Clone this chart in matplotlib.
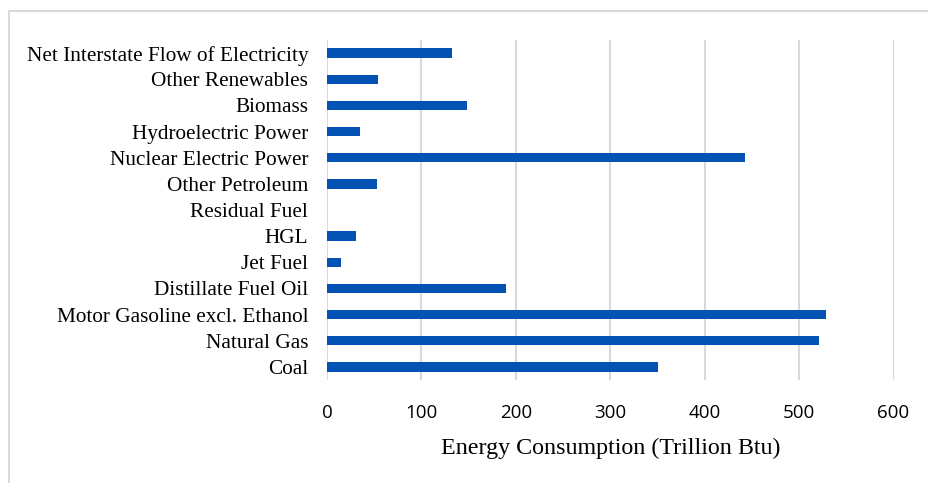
import matplotlib.pyplot as plt
from matplotlib.patches import Rectangle

categories = ['Coal', 'Natural Gas', 'Motor Gasoline excl. Ethanol',
              'Distillate Fuel Oil', 'Jet Fuel', 'HGL', 'Residual Fuel',
              'Other Petroleum', 'Nuclear Electric Power', 'Hydroelectric Power',
              'Biomass', 'Other Renewables', 'Net Interstate Flow of Electricity']
values = [350.3, 520.6, 528.8, 189.8, 14.8, 30.4, 0.2,
          52.6, 443.0, 34.9, 148.5, 54.3, 132.6]
xticks = [0, 100, 200, 300, 400, 500, 600]

fig = plt.figure(figsize=(9.29, 4.83), dpi=100)
ax = fig.add_axes([0.352, 0.2133, 0.6098, 0.7039])

# outer chart border (top and left visible)
fig.patches.append(Rectangle((9 / 929, -0.05), 1.0, 1 - 11 / 483 + 0.05,
                             transform=fig.transFigure, fill=False,
                             edgecolor='#d9d9d9', linewidth=1.5))

ax.barh(range(len(categories)), values, height=0.36, color='#0552b5', zorder=3)
ax.set_xlim(0, 600)
ax.set_ylim(-0.5, len(categories) - 0.5)
ax.set_xticks(xticks)
ax.set_xticklabels([str(t) for t in xticks], family='Open Sans', fontsize=13.5)
ax.set_yticks(range(len(categories)))
ax.set_yticklabels(categories, family='Liberation Serif', fontsize=15.3)
ax.tick_params(axis='x', length=0, pad=17)
ax.tick_params(axis='y', length=0, pad=13.5)
ax.grid(axis='x', color='#d9d9d9', linewidth=1.5, zorder=0)
for s in ax.spines.values():
    s.set_visible(False)
ax.set_xlabel('Energy Consumption (Trillion Btu)', family='Liberation Serif',
              fontsize=17.3, labelpad=12)

fig.savefig('out.png', dpi=100)
